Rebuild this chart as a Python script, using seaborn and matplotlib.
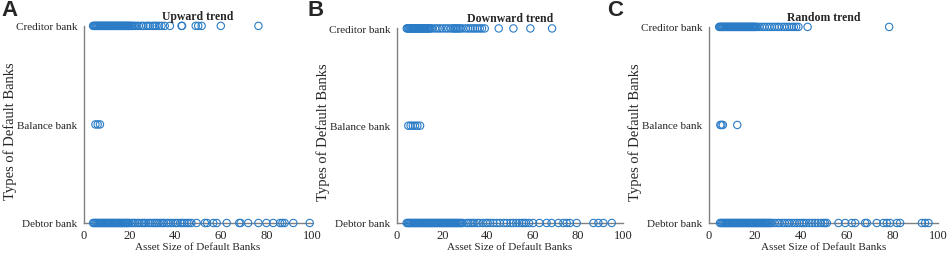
import matplotlib.pyplot as plt
import seaborn as sns
import pandas as pd

# asset sizes of defaulted banks
titles = ["Upward trend", "Downward trend", "Random trend"]
letters = ["A", "B", "C"]
bank_types = ["Debtor bank", "Balance bank", "Creditor bank"]

creditor_a = [4.0, 4.4, 4.8, 5.2, 5.6, 6.0, 6.4, 6.8, 7.2, 7.6, 8.0, 8.4, 8.8, 9.2, 9.6,
              10.0, 10.4, 10.8, 11.2, 11.6, 12.0, 12.4, 12.8, 13.2, 13.6, 14.0, 14.4,
              14.8, 15.2, 15.6, 16.0, 16.4, 16.8, 17.2, 17.6, 18.0, 18.4, 18.8, 19.2,
              19.6, 20.0, 20.5, 21.0, 21.6, 22.3, 23.1, 24.0, 25.2, 26.0, 27.3, 28.1,
              29.0, 30.2, 31.0, 31.8, 32.9, 34.0, 35.4, 37.7, 42.8, 43.0, 49.0, 50.1,
              51.6, 60.0, 76.5]
balance_a = [5.0, 6.0, 7.0]
debtor_a = [4.0, 4.5, 5.0, 5.5, 6.0, 6.5, 7.0, 7.5, 8.0, 8.5, 9.0, 9.5, 10.0, 10.5,
            11.0, 11.5, 12.0, 12.5, 13.0, 13.5, 14.0, 14.5, 15.0, 15.5, 16.0, 16.5,
            17.0, 17.5, 18.0, 18.5, 19.0, 19.5, 20.0, 21.0, 21.8, 22.5, 23.6, 24.4,
            25.5, 26.3, 27.0, 28.2, 29.0, 30.1, 31.0, 31.8, 32.6, 33.5, 34.4, 35.0,
            36.2, 37.0, 38.1, 39.0, 40.2, 41.0, 42.3, 43.1, 44.0, 45.2, 46.0, 47.1,
            49.4, 53.0, 54.0, 56.7, 58.2, 62.6, 68.1, 68.7, 72.0, 76.5, 80.0, 83.0,
            86.0, 87.0, 88.0, 91.8, 99.0]

creditor_b = [4.3, 4.7, 5.1, 5.5, 5.9, 6.3, 6.7, 7.1, 7.5, 7.9, 8.3, 8.7, 9.1, 9.5,
              9.9, 10.3, 10.7, 11.1, 11.5, 11.9, 12.3, 12.7, 13.1, 13.5, 13.9, 14.3,
              14.7, 15.5, 16.8, 17.9, 19.0, 20.2, 21.5, 22.6, 23.8, 24.8, 25.4, 26.0,
              26.6, 27.3, 28.0, 29.0, 30.4, 31.5, 32.5, 33.6, 34.5, 35.5, 36.6, 37.6,
              38.8, 45.0, 51.5, 59.0, 68.6]
balance_b = [5.0, 6.0, 7.0, 8.0, 9.0, 10.2]
debtor_b = [4.3, 4.8, 5.3, 5.8, 6.3, 6.8, 7.3, 7.8, 8.3, 8.8, 9.3, 9.8, 10.3, 10.8,
            11.3, 11.8, 12.3, 12.8, 13.3, 13.8, 14.3, 14.8, 15.3, 15.8, 16.3, 16.8,
            17.3, 17.8, 18.3, 18.8, 19.3, 19.8, 20.3, 20.8, 21.3, 21.8, 22.3, 22.8,
            23.3, 23.8, 24.3, 24.8, 25.3, 25.8, 26.3, 26.8, 27.3, 27.8, 28.5, 29.0,
            30.8, 31.6, 32.5, 33.4, 34.3, 35.6, 36.5, 38.0, 39.3, 40.1, 41.2, 42.6,
            44.1, 45.5, 47.3, 48.6, 50.3, 51.4, 52.7, 54.1, 55.3, 56.2, 57.0, 58.4,
            60.2, 63.0, 66.2, 68.4, 71.4, 73.6, 75.1, 76.5, 79.5, 86.9, 89.1, 91.3, 95.0]

creditor_c = [4.4, 4.8, 5.2, 5.6, 6.0, 6.4, 6.8, 7.2, 7.6, 8.0, 8.4, 8.8, 9.2, 9.6,
              10.0, 10.4, 10.8, 11.2, 11.6, 12.0, 12.4, 12.8, 13.2, 13.6, 14.0, 14.4,
              14.8, 15.2, 15.6, 16.0, 16.4, 16.8, 17.2, 17.6, 18.0, 18.4, 18.8, 19.2,
              19.6, 20.0, 20.5, 21.0, 22.0, 23.1, 24.2, 25.3, 26.4, 27.5, 28.6, 29.7,
              30.5, 31.8, 32.9, 34.0, 35.0, 36.1, 37.0, 38.0, 39.0, 43.0, 78.6]
balance_c = [4.9, 5.4, 6.0, 12.3]
debtor_c = [4.8, 5.3, 5.8, 6.3, 6.8, 7.3, 7.8, 8.3, 8.8, 9.3, 9.8, 10.3, 10.8, 11.3,
            11.8, 12.3, 12.8, 13.3, 13.8, 14.3, 14.8, 15.3, 15.8, 16.3, 16.8, 17.3,
            17.8, 18.3, 18.8, 19.3, 19.8, 20.3, 20.8, 21.3, 21.8, 22.3, 22.8, 23.3,
            23.8, 24.3, 24.8, 25.3, 25.8, 26.3, 26.8, 27.4, 28.6, 29.8, 30.7, 31.9,
            33.0, 34.1, 35.0, 36.2, 37.3, 38.4, 39.5, 40.6, 41.4, 42.5, 43.8, 45.0,
            46.3, 47.5, 48.8, 49.9, 50.6, 51.4, 56.5, 59.4, 62.3, 63.8, 68.1, 68.9,
            73.2, 76.1, 77.6, 79.0, 82.0, 83.4, 92.9, 94.3, 95.8]

panels = [(creditor_a, balance_a, debtor_a),
          (creditor_b, balance_b, debtor_b),
          (creditor_c, balance_c, debtor_c)]

sns.set_style("white")
plt.rcParams["font.family"] = ["Liberation Serif", "DejaVu Serif"]

blue = "#2a7cc7"
grey = "#808080"

fig = plt.figure(figsize=(9.48, 2.55), dpi=100)
boxes = [[0.0886, 0.1216, 0.2405, 0.773],
         [0.4188, 0.1216, 0.2384, 0.763],
         [0.7480, 0.1216, 0.2416, 0.769]]
letter_x = [0.002, 0.324, 0.640]

for i, (cred, bal, debt) in enumerate(panels):
    df = pd.DataFrame({
        "asset": debt + bal + cred,
        "level": [0] * len(debt) + [1] * len(bal) + [2] * len(cred),
    })
    ax = fig.add_axes(boxes[i])
    sns.scatterplot(data=df, x="asset", y="level", ax=ax, color=blue,
                    facecolor="none", edgecolor=blue, s=28, linewidth=0.8,
                    clip_on=False, legend=False, zorder=3)
    ax.set_xlim(0, 100)
    ax.set_ylim(0, 2)
    ax.set_xticks([0, 20, 40, 60, 80, 100])
    ax.set_yticks([0, 1, 2])
    ax.set_yticklabels(bank_types)
    for side in ["top", "right"]:
        ax.spines[side].set_visible(False)
    for side in ["left", "bottom"]:
        ax.spines[side].set_color(grey)
        ax.spines[side].set_linewidth(1)
    ax.tick_params(axis="y", length=3, width=0.8, color=grey, labelsize=8, pad=2)
    ax.tick_params(axis="x", length=0, labelsize=9, pad=4)
    ax.set_xlabel("Asset Size of Default Banks", fontsize=8, labelpad=1)
    ax.set_ylabel("Types of Default Banks", fontsize=10.5)
    ax.yaxis.set_label_coords(-0.295, 0.47)
    ax.set_title(titles[i], fontsize=8.5, fontweight="bold", pad=5)
    fig.text(letter_x[i], 0.96, letters[i], family="Liberation Sans",
             fontweight="bold", fontsize=16, va="center", ha="left")

plt.savefig("out.png", dpi=100)
